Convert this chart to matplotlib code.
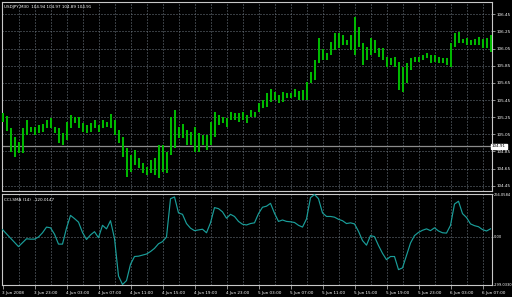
import matplotlib.pyplot as plt
import numpy as np

# USDJPY M30 bars (high / low)
high = [
    105.295, 105.267, 105.12, 105.022, 104.963, 105.12, 105.217, 105.139, 105.139, 105.158,
    105.167, 105.217, 105.237, 105.139, 105.12, 105.061, 105.197, 105.275, 105.255, 105.255,
    105.178, 105.158, 105.178, 105.217, 105.158, 105.217, 105.197, 105.283, 105.217, 105.10,
    105.022, 104.886, 104.808, 104.867, 104.77, 104.711, 104.672, 104.75, 104.77, 104.925,
    104.925, 104.847, 105.255, 105.334, 105.139, 105.167, 105.10, 105.08, 105.139, 105.061,
    105.042, 105.042, 105.197, 105.314, 105.275, 105.255, 105.237, 105.314, 105.295, 105.295,
    105.314, 105.275, 105.334, 105.314, 105.412, 105.45, 105.532, 105.58, 105.547, 105.508,
    105.547, 105.528, 105.535, 105.575, 105.558, 105.567, 105.664, 105.78, 105.917, 106.17,
    106.042, 105.995, 106.13, 106.228, 106.228, 106.209, 106.15, 106.209, 106.422, 106.305,
    106.112, 106.072, 106.17, 106.15, 106.053, 106.053, 105.956, 105.937, 105.956, 105.897,
    105.839, 105.878, 105.937, 105.956, 105.956, 105.975, 105.995, 105.975, 105.975, 105.956,
    105.937, 105.937, 106.112, 106.228, 106.247, 106.158, 106.17, 106.15, 106.158, 106.189,
    106.158, 106.17, 106.209]
low = [
    105.197, 105.088, 104.847, 104.788, 104.828, 104.828, 105.042, 105.08, 105.042, 105.061,
    105.08, 105.12, 105.12, 105.061, 104.945, 104.925, 104.983, 105.12, 105.178, 105.12,
    105.08, 105.061, 105.08, 105.12, 105.08, 105.12, 105.139, 105.12, 105.042, 104.945,
    104.788, 104.555, 104.613, 104.692, 104.653, 104.595, 104.575, 104.595, 104.575, 104.536,
    104.613, 104.595, 104.808, 104.886, 105.003, 105.003, 104.925, 104.925, 104.847, 104.847,
    104.925, 104.867, 104.925, 105.022, 105.158, 105.178, 105.139, 105.217, 105.217, 105.197,
    105.217, 105.178, 105.255, 105.255, 105.314, 105.353, 105.372, 105.43, 105.45, 105.412,
    105.43, 105.47, 105.47, 105.489, 105.45, 105.45, 105.45, 105.645, 105.683, 105.878,
    105.917, 105.917, 105.975, 106.034, 106.053, 106.092, 106.092, 106.034, 105.975, 106.072,
    105.858, 105.917, 105.975, 105.995, 105.956, 105.917, 105.839, 105.858, 105.839, 105.567,
    105.547, 105.645, 105.80, 105.897, 105.897, 105.917, 105.937, 105.878, 105.897, 105.878,
    105.878, 105.858, 105.839, 106.072, 106.112, 106.112, 106.092, 106.092, 106.092, 106.092,
    106.053, 106.053, 106.014]

# CCI-SMA(14) values, one per bar
cci = [
    45.8, 19.1, -7.6, -34.3, -61.0, -36.5, -12.0, -14.3, -14.3, -0.9,
    25.8, 61.4, 56.9, 16.9, -45.4, -45.4, 54.7, 134.8, 114.8, 92.5,
    28.0, -16.5, 12.4, 32.5, -5.4, 72.5, 50.3, 101.4, -9.8, -245.6,
    -299.033, -274.6, -172.2, -123.3, -121.1, -114.4, -107.7, -92.1, -72.1, -43.2,
    -29.8, -0.9, 239.4, 250.5, 150.4, 141.5, 83.6, 54.7, 39.1, 43.6,
    48.0, 25.8, 88.1, 183.7, 177.1, 157.0, 117.0, 141.5, 128.1, 97.0,
    79.2, 74.7, 83.6, 88.1, 145.9, 185.9, 192.6, 210.4, 148.1, 97.0,
    105.9, 97.0, 94.7, 90.3, 72.5, 61.4, 112.5, 246.0, 266.058, 239.4,
    150.4, 128.1, 128.1, 123.7, 110.3, 101.4, 83.6, 88.1, 81.4, 34.7,
    -23.2, -52.1, 8.0, 1.3, -54.3, -103.3, -143.3, -123.3, -123.3, -205.6,
    -194.5, -116.6, -38.7, 8.0, 28.0, 41.4, 50.3, 39.1, 56.9, 36.9,
    25.8, 23.6, 72.5, 206.0, 223.8, 145.9, 121.4, 81.4, 70.3, 63.6,
    45.8, 36.9, 50.3]

price_ticks = [106.45, 106.25, 106.05, 105.85, 105.65, 105.45,
               105.25, 105.05, 104.85, 104.65, 104.45]
bid = 104.91
cci_max = 266.0584
cci_min = -299.0330
time_labels = ["3 Jun 2008", "3 Jun 23:00", "4 Jun 03:00", "4 Jun 07:00",
               "4 Jun 11:00", "4 Jun 15:00", "4 Jun 19:00", "4 Jun 23:00",
               "5 Jun 03:00", "5 Jun 07:00", "5 Jun 11:00", "5 Jun 15:00",
               "5 Jun 19:00", "5 Jun 23:00", "6 Jun 03:00", "6 Jun 07:00"]
title_main = "USDJPY,M30  104.94 104.97 104.89 104.91"
title_cci = "CCI-SMA (14)  -120.0147"

W, H = 512, 297
bar_col = '#00b800'
cci_col = '#1a9e9a'
grid_col = '#6e7882'
frame_col = '#c8c8c8'
fs = 3.0


def box(x0, y0, x1, y1):
    return [x0 / W, 1 - y1 / H, (x1 - x0) / W, (y1 - y0) / H]


fig = plt.figure(figsize=(W / 100, H / 100), dpi=100, facecolor='black')
ax = fig.add_axes(box(2, 2, 492, 191), facecolor='black')
ax2 = fig.add_axes(box(2, 194, 492, 285), facecolor='black')

x = np.arange(len(high))
xlim = (-0.125, 122.375)

# main price panel
for p in price_ticks:
    ax.axhline(p, color=grid_col, lw=0.72, ls=(0, (1, 2)), zorder=1)
for g in range(4, 123, 4):
    ax.axvline(g, color=grid_col, lw=0.72, ls=(0, (1, 2)), zorder=1)
    ax2.axvline(g, color=grid_col, lw=0.72, ls=(0, (1, 2)), zorder=1)
ax.axhline(bid, color='#8c8c8c', lw=0.9, zorder=2)
ax.vlines(x, low, high, color=bar_col, lw=1.1, antialiased=False, zorder=3)
ax.set_xlim(*xlim)
ax.set_ylim(104.388, 106.594)
ax.yaxis.tick_right()
ax.set_yticks(price_ticks)
ax.set_yticklabels([f"{p:.2f}" for p in price_ticks])
ax.tick_params(axis='y', colors=frame_col, labelcolor='white', labelsize=fs,
               length=2, width=0.5, pad=1)
ax.tick_params(axis='x', bottom=False, labelbottom=False)
ax.text(1.0, bid, f"{bid:.2f}", transform=ax.get_yaxis_transform(),
        fontsize=fs, color='black', va='center', ha='left',
        bbox=dict(facecolor='white', edgecolor='white', pad=0.4))
ax.text(0.004, 0.985, title_main, transform=ax.transAxes, fontsize=fs,
        color='white', va='top', ha='left')

# CCI panel
ax2.axhline(0, color=grid_col, lw=0.72, ls=(0, (1, 2)), zorder=1)
ax2.plot(x, cci, color=cci_col, lw=0.85, zorder=3)
ax2.set_xlim(*xlim)
ax2.set_ylim(cci_min - 3, cci_max + 3)
ax2.yaxis.tick_right()
ax2.set_yticks([cci_max, 0, cci_min])
ax2.set_yticklabels([f"{cci_max:.4f}", "0.00", f"{cci_min:.4f}"])
ax2.tick_params(axis='y', colors=frame_col, labelcolor='white', labelsize=2.6,
                length=1, width=0.5, pad=0.4)
ax2.set_xticks(range(0, 121, 8))
ax2.set_xticklabels(time_labels)
ax2.tick_params(axis='x', colors=frame_col, labelcolor='white', labelsize=fs,
                length=3, width=0.5, pad=1)
plt.setp(ax2.get_xticklabels(), ha='left')
ax2.text(0.004, 0.96, title_cci, transform=ax2.transAxes, fontsize=fs,
         color='white', va='top', ha='left')

for a in (ax, ax2):
    for s in a.spines.values():
        s.set_color(frame_col)
        s.set_linewidth(0.8)

fig.savefig('out.png', dpi=100, facecolor='black')
